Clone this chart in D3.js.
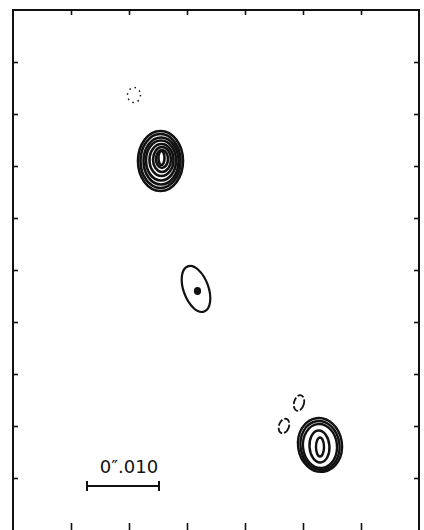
<!DOCTYPE html>
<html lang="en">
<head>
<meta charset="UTF-8">
<title>VLBI contour map</title>
<script src="https://d3js.org/d3.v7.min.js"></script>
<style>
  body { margin: 0; background: #fff; }
  svg { display: block; }
  .frame { fill: none; stroke: #111; stroke-width: 2; }
  .tick line { stroke: #111; stroke-width: 1.6; }
  .contour { fill: none; stroke: #111; stroke-width: 2.2; }
  .bar { stroke: #111; stroke-width: 2; }
  .bar-label { font-family: "DejaVu Sans", sans-serif; font-size: 18px; fill: #111; }
</style>
</head>
<body>
<svg width="424" height="530"></svg>
<script>
// map grid in tick units (x: 0..7, y: 0..10)
const xTicks = [1, 2, 3, 4, 5, 6];
const yTicks = [1, 2, 3, 4, 5, 6, 7, 8, 9];

// bright core, upper left (x, y, rx, ry in tick units)
const coreContours = [
  { x: 2.543, y: 7.096, rx: 0.388, ry: 0.577, rot: 0 },
  { x: 2.543, y: 7.096, rx: 0.345, ry: 0.519, rot: 0 },
  { x: 2.552, y: 7.096, rx: 0.302, ry: 0.452, rot: 0 },
  { x: 2.552, y: 7.106, rx: 0.259, ry: 0.385, rot: 0 },
  { x: 2.560, y: 7.115, rx: 0.207, ry: 0.308, rot: 0 },
  { x: 2.569, y: 7.125, rx: 0.155, ry: 0.240, rot: 0 },
  { x: 2.569, y: 7.135, rx: 0.103, ry: 0.173, rot: 0 },
  { x: 2.560, y: 7.154, rx: 0.052, ry: 0.135, rot: 0 }
];

// faint middle component
const middleContours = [
  { x: 3.155, y: 4.635, rx: 0.215, ry: 0.462, rot: -20 }
];
const middlePeak = [
  { x: 3.181, y: 4.596, rx: 0.043, ry: 0.058, rot: 0 }
];

// lower right component
const lowerContours = [
  { x: 5.293, y: 1.635, rx: 0.379, ry: 0.519, rot: -8 },
  { x: 5.293, y: 1.625, rx: 0.336, ry: 0.471, rot: -8 },
  { x: 5.293, y: 1.615, rx: 0.293, ry: 0.423, rot: -6 },
  { x: 5.284, y: 1.606, rx: 0.172, ry: 0.308, rot: -4 },
  { x: 5.293, y: 1.596, rx: 0.069, ry: 0.183, rot: 0 }
];

// broken low-level contours next to the lower component
const brokenContours = [
  { x: 4.931, y: 2.442, rx: 0.086, ry: 0.154, rot: 15 },
  { x: 4.672, y: 2.000, rx: 0.086, ry: 0.144, rot: 20 }
];

// negative contour (dotted)
const negativeContours = [
  { x: 2.086, y: 8.365, rx: 0.112, ry: 0.144, rot: 0 }
];

// angular scale bar
const scaleBar = { x0: 1.276, x1: 2.517, y: 0.846, labelY: 1.096, label: "0\u2033.010" };

const margin = { left: 13, right: 5, top: 10, bottom: 0 };
const width = 424, height = 530;

const svg = d3.select("svg");
const x = d3.scaleLinear().domain([0, 7]).range([margin.left, width - margin.right]);
const y = d3.scaleLinear().domain([0, 10]).range([height - margin.bottom, margin.top]);

// frame (bottom edge falls at the picture's lower border)
svg.append("rect").attr("class", "frame")
  .attr("x", x(0)).attr("y", y(10))
  .attr("width", x(7) - x(0)).attr("height", y(0) - y(10) + 2);

// inward ticks on all four sides
const tickLen = 5;
svg.append("g").attr("transform", `translate(0,${y(10)})`)
  .call(d3.axisBottom(x).tickValues(xTicks).tickSize(tickLen).tickFormat(""));
svg.append("g").attr("transform", `translate(0,${y(0)})`)
  .call(d3.axisTop(x).tickValues(xTicks).tickSize(tickLen + 2).tickFormat(""));
svg.append("g").attr("transform", `translate(${x(0)},0)`)
  .call(d3.axisRight(y).tickValues(yTicks).tickSize(tickLen).tickFormat(""));
svg.append("g").attr("transform", `translate(${x(7)},0)`)
  .call(d3.axisLeft(y).tickValues(yTicks).tickSize(tickLen).tickFormat(""));
svg.selectAll(".domain").remove();

function drawContours(data, cls) {
  return svg.append("g").selectAll("ellipse")
    .data(data)
    .enter().append("ellipse")
    .attr("class", cls)
    .attr("cx", d => x(d.x))
    .attr("cy", d => y(d.y))
    .attr("rx", d => x(d.x + d.rx) - x(d.x))
    .attr("ry", d => y(d.y) - y(d.y + d.ry))
    .attr("transform", d => `rotate(${d.rot},${x(d.x)},${y(d.y)})`);
}

drawContours(coreContours, "contour").style("stroke-width", 2.6);
drawContours(middleContours, "contour");
drawContours(middlePeak, "contour").style("fill", "#111");
drawContours(lowerContours, "contour").style("stroke-width", 2.4);
drawContours(brokenContours, "contour")
  .style("stroke-width", 1.8).style("stroke-dasharray", "7,2");
drawContours(negativeContours, "contour")
  .style("stroke-width", 1.5).style("stroke-dasharray", "1.5,4");

// scale bar
const bar = svg.append("g");
bar.append("line").attr("class", "bar")
  .attr("x1", x(scaleBar.x0)).attr("x2", x(scaleBar.x1))
  .attr("y1", y(scaleBar.y)).attr("y2", y(scaleBar.y));
[scaleBar.x0, scaleBar.x1].forEach(v => {
  bar.append("line").attr("class", "bar")
    .attr("x1", x(v)).attr("x2", x(v))
    .attr("y1", y(scaleBar.y) - 5).attr("y2", y(scaleBar.y) + 5);
});
bar.append("text").attr("class", "bar-label")
  .attr("x", (x(scaleBar.x0) + x(scaleBar.x1)) / 2 + 6)
  .attr("y", y(scaleBar.labelY))
  .attr("text-anchor", "middle")
  .text(scaleBar.label);
</script>
</body>
</html>
